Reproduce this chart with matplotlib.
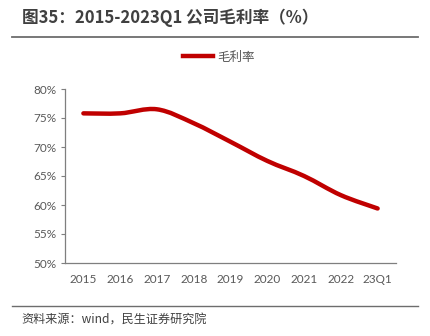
import numpy as np
import matplotlib.pyplot as plt
from matplotlib.path import Path
from matplotlib.patches import PathPatch
from matplotlib.lines import Line2D

plt.rcParams['font.family'] = ['Noto Sans CJK SC', 'DejaVu Sans']

periods = ['2015', '2016', '2017', '2018', '2019', '2020', '2021', '2022', '23Q1']
gross_margin = [75.8, 75.8, 76.5, 74.1, 70.9, 67.6, 65.0, 61.7, 59.4]

red = '#C00000'
grey = '#595959'

fig = plt.figure(figsize=(4.30, 3.36), dpi=100)
ax = fig.add_axes([65 / 430, 73 / 336, 331 / 430, 174 / 336])

# smoothed line (bezier through the points, like a spreadsheet "smooth line")
x = np.arange(len(periods), dtype=float)
y = np.array(gross_margin)
verts = [(x[0], y[0])]
codes = [Path.MOVETO]
t = 1 / 6
for i in range(len(x) - 1):
    x0, y0 = (x[i - 1], y[i - 1]) if i > 0 else (x[i], y[i])
    x3, y3 = (x[i + 2], y[i + 2]) if i + 2 < len(x) else (x[i + 1], y[i + 1])
    c1 = (x[i] + (x[i + 1] - x0) * t, y[i] + (y[i + 1] - y0) * t)
    c2 = (x[i + 1] - (x3 - x[i]) * t, y[i + 1] - (y3 - y[i]) * t)
    verts += [c1, c2, (x[i + 1], y[i + 1])]
    codes += [Path.CURVE4] * 3
ax.add_patch(PathPatch(Path(verts, codes), facecolor='none', edgecolor=red,
                       lw=3.2, capstyle='round', joinstyle='round'))

ax.set_xlim(-0.5, len(periods) - 0.5)
ax.set_ylim(50, 80)
ax.set_xticks(x)
ax.set_xticklabels(periods)
ax.set_yticks(np.arange(50, 81, 5))
ax.set_yticklabels([f'{v}%' for v in range(50, 81, 5)])

for side in ['top', 'right']:
    ax.spines[side].set_visible(False)
for side in ['left', 'bottom']:
    ax.spines[side].set_color('#7f7f7f')
    ax.spines[side].set_linewidth(0.9)
ax.tick_params(axis='y', length=3, width=0.8, color='#7f7f7f', labelsize=8.5,
               labelcolor=grey, pad=3)
ax.tick_params(axis='x', length=0, labelsize=8.5, labelcolor=grey, pad=8)
for lab in ax.get_xticklabels() + ax.get_yticklabels():
    lab.set_fontfamily(['Lato', 'DejaVu Sans'])

# legend
handle = Line2D([], [], color=red, lw=3.2)
fig.legend([handle], ['毛利率'], loc='center', bbox_to_anchor=(219 / 430, 1 - 57 / 336),
           frameon=False, fontsize=9, labelcolor=grey, handlelength=2.4,
           handletextpad=0.3)

# title and source
fig.text(22 / 430, 1 - 18 / 336, '图35：2015-2023Q1 公司毛利率（%）', fontsize=12,
         fontweight='bold', color='#404040', va='center', ha='left')
fig.add_artist(Line2D([12 / 430, 418 / 430], [1 - 37 / 336] * 2, color='#6d6d6d', lw=1.3))
fig.add_artist(Line2D([12 / 430, 418 / 430], [1 - 306 / 336] * 2, color='#6d6d6d', lw=1.0))
fig.text(21 / 430, 1 - 320 / 336, '资料来源：wind，民生证券研究院', fontsize=8.7,
         color='#404040', va='center', ha='left')

fig.savefig('out.png', dpi=100)
